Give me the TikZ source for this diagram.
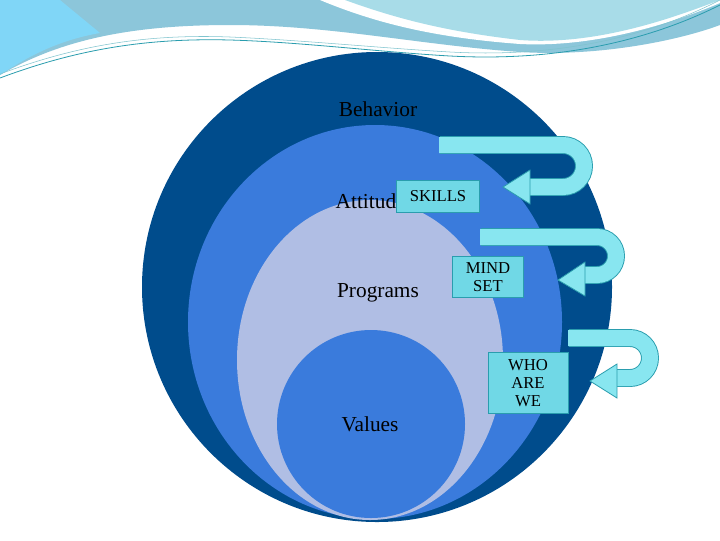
\documentclass[tikz,border=0pt]{standalone}
\usepackage{fontspec}
\setmainfont{Liberation Serif}
\definecolor{dk}{HTML}{004C8C}
\definecolor{md}{HTML}{3A7BDC}
\definecolor{lt}{HTML}{B0BEE4}
\definecolor{bx}{HTML}{70D8E6}
\definecolor{ar}{HTML}{88E6F0}
\definecolor{ed}{HTML}{2A9DAE}
\definecolor{wv}{HTML}{8CC6DA}
\definecolor{wv2}{HTML}{A8DCE8}
\begin{document}
\begin{tikzpicture}[x=0.75pt,y=-0.75pt,
  lbl/.style={font=\fontsize{16}{18}\selectfont, text=black},
  boxn/.style={draw=ed, fill=bx, font=\fontsize{12.5}{13.5}\selectfont, align=center, inner sep=2pt, line width=0.6pt},
  band/.style={line width=12pt, draw=ar},
  bandb/.style={line width=13.4pt, draw=ed},
  head/.style={fill=ar, draw=ed, line width=0.6pt}]
\useasboundingbox (0,0) rectangle (720,540);
\fill[white] (0,0) rectangle (720,540);
% top decoration
\fill[wv] (0,75) .. controls (60,40) and (130,25) .. (230,25) .. controls (330,25) and (420,45) .. (520,52) .. controls (600,57) and (680,40) .. (720,25) -- (720,0) -- (0,0) -- cycle;
\fill[cyan!50!white] (0,75) .. controls (30,55) and (60,40) .. (100,33) -- (60,0) -- (0,0) -- cycle;
\fill[white] (320,0) .. controls (380,25) and (440,38) .. (520,44) .. controls (600,48) and (680,20) .. (720,3) -- (720,0) -- cycle;
\fill[wv2] (345,0) .. controls (400,20) and (450,32) .. (520,40) .. controls (600,46) and (680,15) .. (720,0) -- cycle;
\draw[ed, line width=0.6pt] (0,78) .. controls (80,48) and (150,38) .. (230,40) .. controls (300,42) and (380,52) .. (450,56) .. controls (560,62) and (650,40) .. (720,5);
\draw[ed!60, line width=0.4pt] (0,74) .. controls (80,44) and (150,34) .. (230,37) .. controls (300,40) and (380,48) .. (450,52) .. controls (560,58) and (650,36) .. (720,0);
% circles
\fill[dk] (377,287) ellipse (235 and 235);
\fill[md] (375,322) ellipse (187 and 197);
\fill[lt] (370,360) ellipse (133 and 160);
\fill[md] (371,424) ellipse (94 and 94);
% texts
\node[lbl] (beh) at (378,109) {Behavior};
\node[lbl, anchor=west] (att) at (331,201) {Attitudes};
\node[lbl] (prog) at (378,293) {Programs};
\node[lbl] (val) at (370,424) {Values};
% arrows
\draw[bandb] (440,145) -- (563,145) arc (-90:90:21) -- (528,187);
\draw[band] (439,145) -- (563,145) arc (-90:90:21) -- (527,187);
\draw[head] (503,187) -- (530,170) -- (530,204) -- cycle;
\draw[bandb] (481,237) -- (597,237) arc (-90:90:19) -- (583,275);
\draw[band] (480,237) -- (597,237) arc (-90:90:19) -- (582,275);
\draw[head] (558,280) -- (585,262) -- (585,296) -- cycle;
\draw[bandb] (569,338) -- (630,338) arc (-90:90:20) -- (616,378);
\draw[band] (568,338) -- (630,338) arc (-90:90:20) -- (615,378);
\draw[head] (590,381) -- (617,364) -- (617,398) -- cycle;
% boxes
\node[boxn, minimum width=62pt, minimum height=24pt] (sk) at (438,196) {SKILLS};
\node[boxn, minimum width=53pt, minimum height=31pt] (ms) at (488,277) {MIND\\SET};
\node[boxn, minimum width=60pt, minimum height=46pt] (wh) at (528,383) {WHO\\ARE\\WE};
\end{tikzpicture}
\end{document}
